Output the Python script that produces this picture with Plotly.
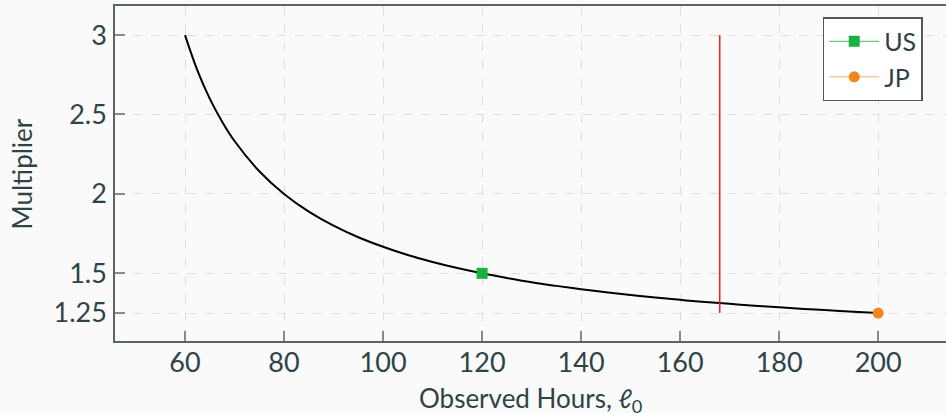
import plotly.graph_objects as go

# Curve
hours = [60, 62.5, 65, 67.5, 70, 75, 80, 85, 90, 95, 100, 105, 110, 115, 120, 125, 130,
         135, 140, 145, 150, 155, 160, 165, 170, 175, 180, 185, 190, 195, 200]
multiplier = [3.0, 2.778, 2.6, 2.455, 2.333, 2.143, 2.0, 1.889, 1.8, 1.727, 1.667, 1.615,
              1.571, 1.533, 1.5, 1.471, 1.444, 1.421, 1.4, 1.381, 1.364, 1.348, 1.333,
              1.32, 1.308, 1.296, 1.286, 1.276, 1.267, 1.258, 1.25]

us_x, us_y = [120], [1.5]
jp_x, jp_y = [200], [1.25]
ref_x = [168, 168]
ref_y = [1.25, 3.0]

x_ticks = [60, 80, 100, 120, 140, 160, 180, 200]
y_ticks = [1.25, 1.5, 2, 2.5, 3]
y_tick_text = ["1.25", "1.5", "2", "2.5", "3"]

TXT = "#2f4347"
FONT = "Lato, 'Open Sans', sans-serif"

fig = go.Figure()
fig.add_trace(go.Scatter(x=hours, y=multiplier, mode="lines", line=dict(color="black", width=2, shape="spline"),
                         showlegend=False, hoverinfo="skip"))
fig.add_trace(go.Scatter(x=ref_x, y=ref_y, mode="lines", line=dict(color="#ff1a1a", width=1.5),
                         showlegend=False))
fig.add_trace(go.Scatter(x=us_x, y=us_y, mode="lines+markers", name="US",
                         line=dict(color="#3cbf5a", width=1),
                         marker=dict(symbol="square", size=11, color="#19b03f")))
fig.add_trace(go.Scatter(x=jp_x, y=jp_y, mode="lines+markers", name="JP",
                         line=dict(color="#f5b075", width=1),
                         marker=dict(symbol="circle", size=11, color="#f0861c")))

axis_common = dict(
    showgrid=True, gridcolor="#dedede", griddash="dash", gridwidth=1,
    showline=True, linecolor="#55666a", linewidth=1.5,
    ticks="inside", ticklen=10, tickcolor="#8a8a8a", tickwidth=1.5,
    tickfont=dict(family=FONT, size=27, color=TXT), zeroline=False,
    automargin=False,
)

fig.update_xaxes(range=[45.86, 213.7], tickvals=x_ticks, mirror=True, ticklabelstandoff=-3,
                 **axis_common)
fig.update_yaxes(range=[1.074, 3.183], tickvals=y_ticks, ticktext=y_tick_text,
                 ticklabelstandoff=1,
                 **axis_common)

fig.add_annotation(text="Observed Hours, <i>ℓ</i><sub>0</sub>", xref="paper", yref="paper",
                   x=0.5, y=-0.175, xanchor="center", yanchor="middle", showarrow=False,
                   font=dict(family=FONT, size=26, color=TXT))
fig.add_annotation(text="Multiplier", xref="paper", yref="paper", textangle=-90,
                   x=-0.112, y=0.5, xanchor="center", yanchor="middle", showarrow=False,
                   font=dict(family=FONT, size=26, color=TXT))

fig.update_layout(
    width=946, height=413,
    margin=dict(l=115, r=0, t=6, b=72),
    paper_bgcolor="#fafafa", plot_bgcolor="#fafafa",
    legend=dict(x=0.972, y=0.967, xanchor="right", yanchor="top",
                bgcolor="white", bordercolor="#555555", borderwidth=1.5,
                font=dict(family=FONT, size=25, color=TXT), itemwidth=50),
)

fig.write_html("out.html", config={"displayModeBar": False},
               post_script="document.body.style.margin='0';")
